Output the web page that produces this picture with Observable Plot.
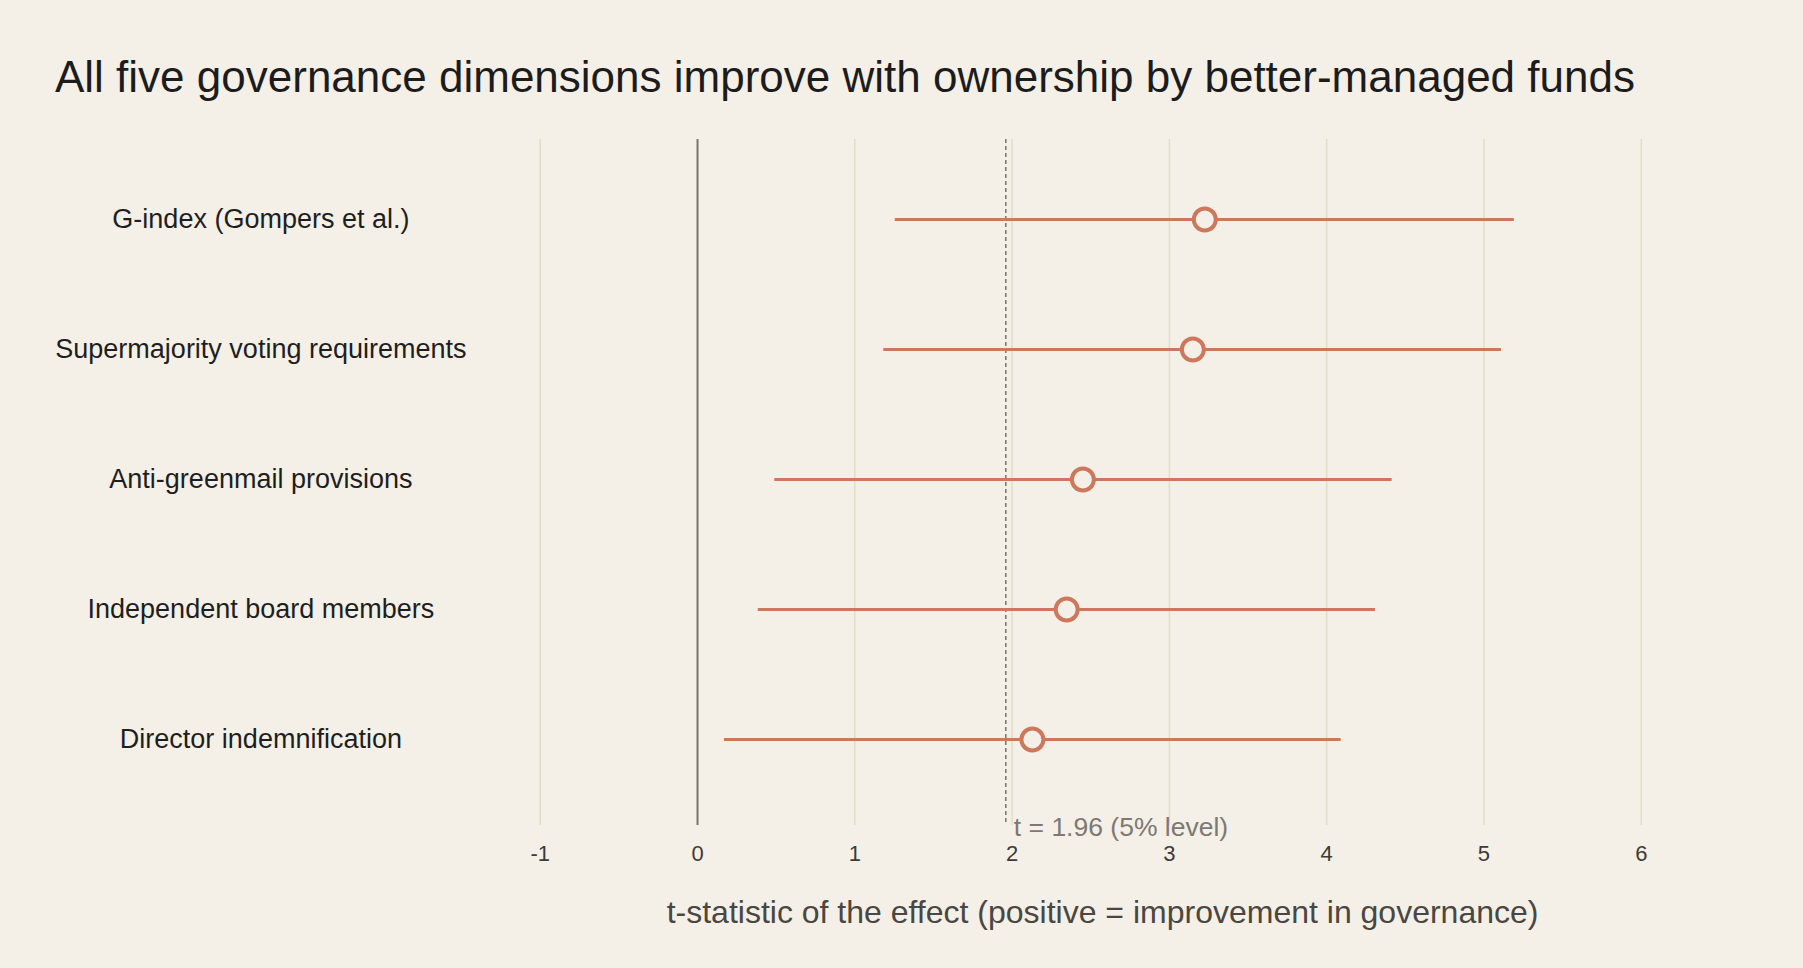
<!DOCTYPE html>
<html>
<head>
<meta charset="utf-8">
<script src="https://cdn.jsdelivr.net/npm/d3@7"></script>
<script src="https://cdn.jsdelivr.net/npm/@observablehq/plot@0.6"></script>
<style>
  html, body { margin: 0; padding: 0; background: #f4f0e8; overflow: hidden; }
  #title { height: 110px; box-sizing: border-box; padding: 54.5px 0 0 55px; font-family: "Liberation Sans", Arial, Helvetica, sans-serif; font-size: 44px; line-height: 44px; color: #1c1c1c; white-space: nowrap; }
  #chart svg { display: block; }
</style>
</head>
<body>
<div id="title">All five governance dimensions improve with ownership by better-managed funds</div>
<div id="chart"></div>
<script>
const dimensions = [
  "G-index (Gompers et al.)",
  "Supermajority voting requirements",
  "Anti-greenmail provisions",
  "Independent board members",
  "Director indemnification"
];
const tStat = [3.225, 3.149, 2.450, 2.347, 2.129];
const ciLow = [1.257, 1.184, 0.491, 0.386, 0.171];
const ciHigh = [5.193, 5.111, 4.416, 4.310, 4.092];
const xTicks = [-1, 0, 1, 2, 3, 4, 5, 6];
const threshold = [1.96];
const thresholdLabel = ["t = 1.96 (5% level)"];
const zeroLine = [0];
const xLabel = ["t-statistic of the effect (positive = improvement in governance)"];

const rows = dimensions.map((d, i) => ({dim: d, t: tStat[i], lo: ciLow[i], hi: ciHigh[i]}));
const accent = "#cd785c";
const bg = "#f4f0e8";

const chart = Plot.plot({
  width: 1803,
  height: 858,
  marginTop: 29,
  marginBottom: 143,
  marginLeft: 500.4,
  marginRight: 99.3,
  style: {background: bg, fontFamily: "'Liberation Sans', Arial, Helvetica, sans-serif"},
  x: {domain: [-1.25, 6.4], ticks: xTicks, label: null},
  y: {type: "point", domain: dimensions, padding: 0.594, insetBottom: 7, label: null},
  marks: [
    Plot.gridX(xTicks, {stroke: "#e3decb", strokeOpacity: 1, strokeWidth: 1.6}),
    Plot.ruleX(zeroLine, {stroke: "#7b7770", strokeWidth: 2}),
    Plot.ruleX(threshold, {stroke: "#75716c", strokeWidth: 1.5, strokeDasharray: "4,3"}),
    Plot.text(thresholdLabel, {x: threshold, frameAnchor: "bottom", text: d => d, textAnchor: "start", lineAnchor: "middle", dx: 8, dy: 2, fill: "#7d7873", fontSize: 26.5}),
    Plot.ruleY(rows, {y: "dim", x1: "lo", x2: "hi", stroke: accent, strokeWidth: 3}),
    Plot.dot(rows, {x: "t", y: "dim", r: 11, stroke: accent, strokeWidth: 4, fill: bg}),
    Plot.axisX({ticks: xTicks, tickSize: 0, tickPadding: 20, tickFormat: d => String(d), fontSize: 22, fill: "#3d3a37", label: null}),
    Plot.text(xLabel, {frameAnchor: "bottom", text: d => d, textAnchor: "middle", lineAnchor: "middle", dy: 87.5, fontSize: 32, fill: "#4a4641"}),
    Plot.axisY({tickSize: 0, tickPadding: 0, textAnchor: "middle", dx: -240, fontSize: 27, fill: "#1e1e1e", label: null})
  ]
});
document.getElementById("chart").appendChild(chart);
</script>
</body>
</html>
